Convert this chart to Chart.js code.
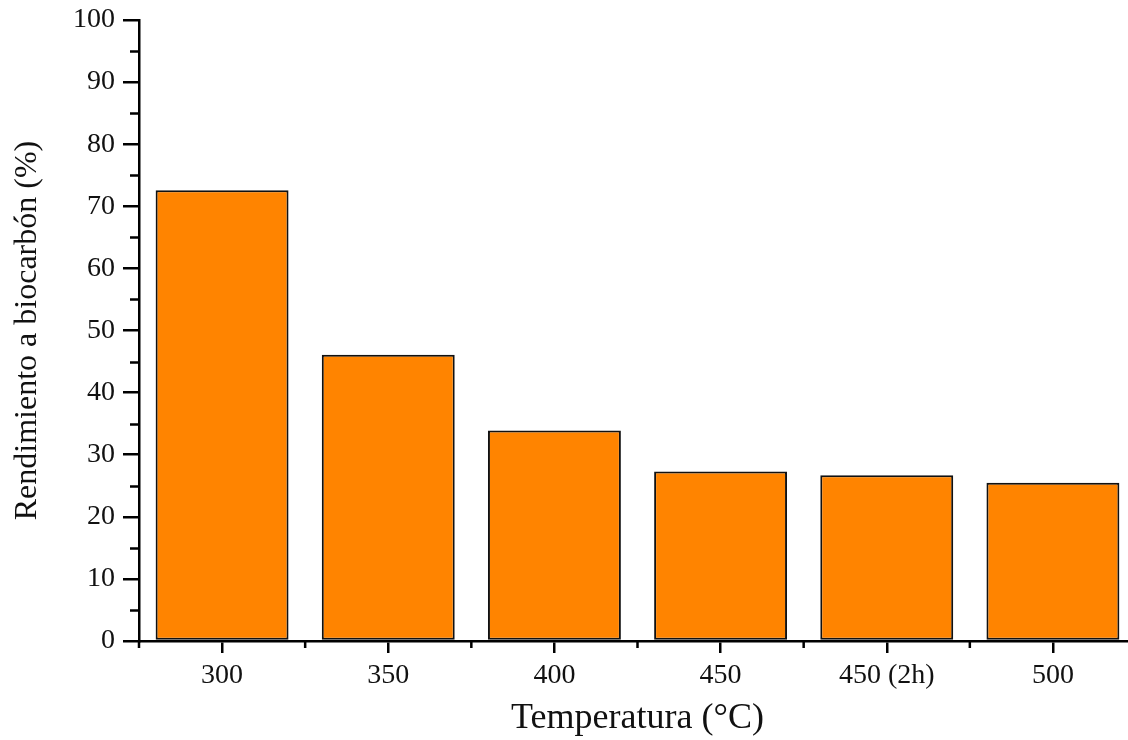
<!DOCTYPE html>
<html>
<head>
<meta charset="utf-8">
<script src="https://cdn.jsdelivr.net/npm/chart.js@4"></script>
<style>
  html, body { margin: 0; padding: 0; background: #fff; overflow: hidden; }
  #wrap { width: 1136px; height: 740px; }
</style>
</head>
<body>
<div id="wrap"><canvas id="chart" width="1136" height="740"></canvas></div>
<script>
// datos
const categories = ['300', '350', '400', '450', '450 (2h)', '500'];
const yieldValues = [72.6, 46.1, 33.9, 27.3, 26.7, 25.5];
const yMinorTicks = [5, 15, 25, 35, 45, 55, 65, 75, 85, 95];

const FONT = "'Liberation Serif', 'Times New Roman', serif";

// ticks menores (eje y) y marcas entre categorías (eje x)
const minorTicks = {
  id: 'minorTicks',
  afterDraw(chart) {
    const { ctx, scales: { x, y } } = chart;
    ctx.save();
    ctx.strokeStyle = '#000';
    ctx.lineWidth = 2.5;
    ctx.beginPath();
    yMinorTicks.forEach(v => {
      const py = Math.round(y.getPixelForValue(v)) + 0.5;
      ctx.moveTo(y.right - 9, py);
      ctx.lineTo(y.right, py);
    });
    for (let i = 0; i <= categories.length; i++) {
      const px = x.getPixelForValue(i - 0.5);
      ctx.moveTo(px, x.top);
      ctx.lineTo(px, x.top + 7);
    }
    ctx.stroke();
    ctx.restore();
  }
};

new Chart(document.getElementById('chart'), {
  type: 'bar',
  data: {
    labels: categories,
    datasets: [{
      data: yieldValues,
      backgroundColor: '#FF8400',
      borderColor: '#111',
      borderWidth: 2,
      borderSkipped: false,
      barPercentage: 0.8,
      categoryPercentage: 1.0
    }]
  },
  options: {
    responsive: false,
    animation: false,
    layout: { padding: { top: 20, right: 0, left: 0, bottom: 0 } },
    plugins: { legend: { display: false }, tooltip: { enabled: false } },
    scales: {
      x: {
        offset: true,
        grid: { display: true, drawOnChartArea: false, offset: false, tickLength: 12, color: '#000', lineWidth: 2.5 },
        border: { display: true, color: '#000', width: 2.5 },
        ticks: { color: '#111', font: { family: FONT, size: 28 }, padding: 6, maxRotation: 0 },
        title: { display: true, text: 'Temperatura (°C)', color: '#111', font: { family: FONT, size: 36 }, padding: { top: 8, bottom: 0 } },
        afterFit(scale) { scale.height = 99; scale.paddingLeft = 0; scale.paddingRight = 0; }
      },
      y: {
        min: 0,
        max: 100,
        ticks: { stepSize: 10, color: '#111', font: { family: FONT, size: 28 }, padding: 8 },
        grid: { display: true, drawOnChartArea: false, tickLength: 16, color: '#000', lineWidth: 2.5 },
        border: { display: true, color: '#000', width: 2.5 },
        title: { display: true, text: 'Rendimiento a biocarbón (%)', color: '#111', font: { family: FONT, size: 32 }, padding: { top: 8, bottom: 6 } },
        afterFit(scale) { scale.width = 139; scale.paddingTop = 0; scale.paddingBottom = 0; }
      }
    }
  },
  plugins: [minorTicks]
});
</script>
</body>
</html>
